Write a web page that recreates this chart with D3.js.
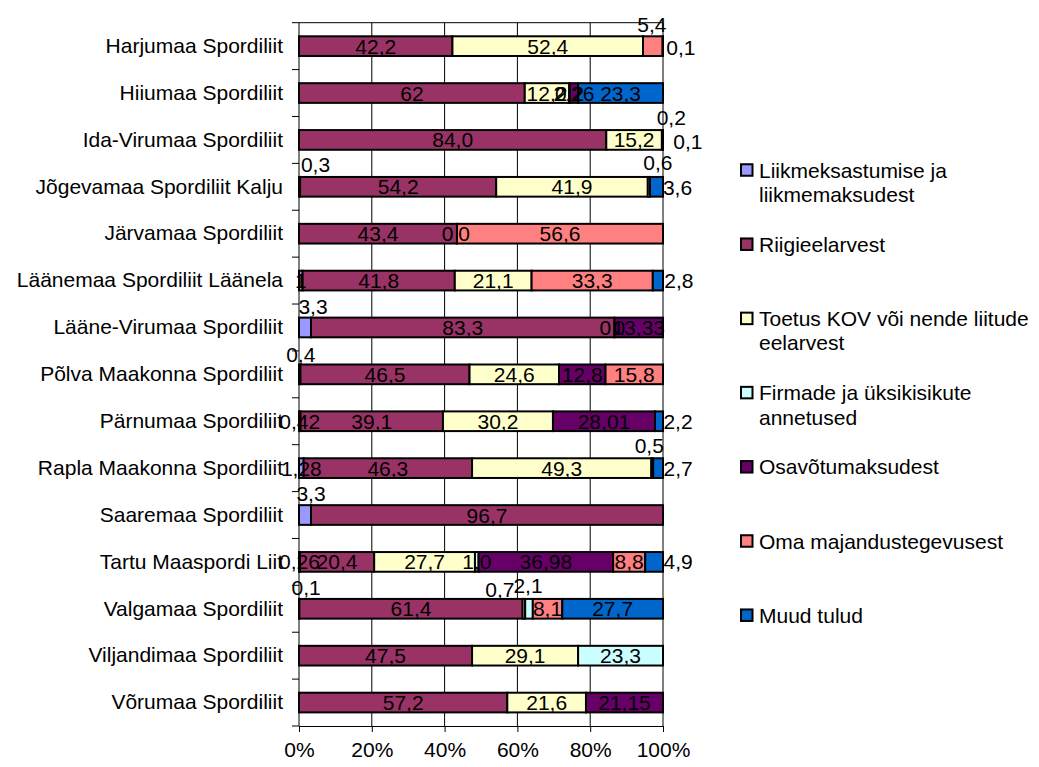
<!DOCTYPE html>
<html>
<head>
<meta charset="utf-8">
<script src="https://cdn.jsdelivr.net/npm/d3@7"></script>
<style>
  body { margin: 0; background: #fff; }
  svg text { font-family: "Liberation Sans", Arial, sans-serif; }
</style>
</head>
<body>
<svg id="chart" width="1039" height="767"></svg>
<script>
// andmed (loetud pildilt, eesti komaga nagu sildil)
const categories = [
  "Harjumaa Spordiliit", "Hiiumaa Spordiliit", "Ida-Virumaa Spordiliit",
  "Jõgevamaa Spordiliit Kalju", "Järvamaa Spordiliit", "Läänemaa Spordiliit Läänela",
  "Lääne-Virumaa Spordiliit", "Põlva Maakonna Spordiliit", "Pärnumaa Spordiliit",
  "Rapla Maakonna Spordiliit", "Saaremaa Spordiliit", "Tartu Maaspordi Liit",
  "Valgamaa Spordiliit", "Viljandimaa Spordiliit", "Võrumaa Spordiliit"
];
const seriesNames = [
  "Liikmeksastumise ja\nliikmemaksudest",
  "Riigieelarvest",
  "Toetus KOV või nende liitude\neelarvest",
  "Firmade ja üksikisikute\nannetused",
  "Osavõtumaksudest",
  "Oma majandustegevusest",
  "Muud tulud"
];
const liikmeks = [null, null, null, "0,3", null, "1", "3,3", "0,4", "0,42", "1,28", "3,3", "0,26", "0,1", null, null];
const riigi    = ["42,2", "62", "84,0", "54,2", "43,4", "41,8", "83,3", "46,5", "39,1", "46,3", "96,7", "20,4", "61,4", "47,5", "57,2"];
const toetus   = ["52,4", "12,2", "15,2", "41,9", "0", "21,1", "0", "24,6", "30,2", "49,3", null, "27,7", "0,7", "29,1", "21,6"];
const firmade  = [null, "0,2", null, null, "0", null, "0", null, null, null, null, "1,0", "2,1", "23,3", null];
const osavotu  = [null, "2,26", "0,2", null, null, null, "13,33", "12,8", "28,01", "0,5", null, "36,98", null, null, "21,15"];
const oma      = ["5,4", null, null, "0,6", "56,6", "33,3", null, "15,8", null, null, null, "8,8", "8,1", null, null];
const muud     = ["0,1", "23,3", "0,1", "3,6", null, "2,8", null, null, "2,2", "2,7", null, "4,9", "27,7", null, null];
const xTicks = [0, 0.2, 0.4, 0.6, 0.8, 1];

const seriesValues = [liikmeks, riigi, toetus, firmade, osavotu, oma, muud];
const colors = ["#9999FF", "#993366", "#FFFFCC", "#CCFFFF", "#660066", "#FF8080", "#0066CC"];

// käsitsi nihutatud sildid: "rida-seeria" -> [dx, dy]
const labelShift = {
  "0-5": [-1, -22], "0-6": [18, 1],
  "2-4": [9, -22], "2-6": [25, 2],
  "3-0": [16, -22], "3-5": [9, -24], "3-6": [21, 1],
  "4-2": [-9.5, 0], "4-3": [7, 0],
  "5-6": [21, 0],
  "6-0": [8, -21], "6-2": [-9, 0], "6-3": [5, 0],
  "7-0": [1, -20],
  "8-6": [19, 0],
  "9-4": [-3, -23], "9-6": [20, 0],
  "10-0": [6, -22],
  "11-6": [24, 0],
  "12-0": [7, -21], "12-2": [-24, -19], "12-3": [-1, -23]
};

const num = s => s == null ? 0 : +s.replace(",", ".");

const table = categories.map((c, i) => {
  const row = { cat: c, idx: i };
  seriesValues.forEach((s, k) => row[k] = num(s[i]));
  return row;
});
const keys = d3.range(seriesNames.length);
const stacked = d3.stack().keys(keys).offset(d3.stackOffsetExpand)(table);

const plotLeft = 299, plotRight = 663, plotTop = 22.7, plotBottom = 726;
const x = d3.scaleLinear().domain([0, 1]).range([plotLeft, plotRight]);
const y = d3.scaleBand().domain(categories).range([plotTop, plotBottom]);
const barH = y.bandwidth() * 0.42;

const svg = d3.select("#chart");

// ruudustik
svg.append("g")
  .selectAll("line")
  .data(xTicks.slice(1))
  .join("line")
  .attr("x1", d => x(d)).attr("x2", d => x(d))
  .attr("y1", plotTop).attr("y2", plotBottom)
  .attr("stroke", "#000").attr("stroke-width", 1);

svg.append("line")
  .attr("x1", plotLeft).attr("x2", plotRight)
  .attr("y1", plotTop).attr("y2", plotTop)
  .attr("stroke", "#000");

// tulbad
const layers = svg.append("g")
  .selectAll("g")
  .data(stacked)
  .join("g")
  .attr("fill", d => colors[d.key]);

layers.selectAll("rect")
  .data(d => d.filter(p => seriesValues[d.key][p.data.idx] != null))
  .join("rect")
  .attr("x", d => x(d[0]))
  .attr("width", d => Math.max(0, x(d[1]) - x(d[0])))
  .attr("y", d => y(d.data.cat) + y.bandwidth() / 2 - barH / 2)
  .attr("height", barH)
  .attr("stroke", "#000")
  .attr("stroke-width", 2);

// andmesildid
const labels = [];
stacked.forEach(layer => {
  layer.forEach(p => {
    const txt = seriesValues[layer.key][p.data.idx];
    if (txt == null) return;
    const sh = labelShift[p.data.idx + "-" + layer.key] || [0, 0];
    labels.push({
      txt,
      x: x((p[0] + p[1]) / 2) + sh[0],
      y: y(p.data.cat) + y.bandwidth() / 2 + sh[1]
    });
  });
});
svg.append("g")
  .selectAll("text")
  .data(labels)
  .join("text")
  .attr("x", d => d.x)
  .attr("y", d => d.y)
  .attr("dy", "0.36em")
  .attr("text-anchor", "middle")
  .attr("font-size", 21)
  .attr("fill", "#000")
  .text(d => d.txt);

// x telg
const xAxis = svg.append("g")
  .attr("transform", `translate(0,${plotBottom})`)
  .call(d3.axisBottom(x).tickValues(xTicks).tickFormat(d3.format(".0%")).tickSize(6).tickPadding(10));
xAxis.selectAll("text").attr("font-size", 21).attr("font-family", null).attr("fill", "#000");
xAxis.selectAll("line, path").attr("stroke", "#000");

// y telg
const yAxis = svg.append("g")
  .attr("transform", `translate(${plotLeft},0)`)
  .call(d3.axisLeft(y).tickSize(0).tickPadding(16));
yAxis.select(".domain").remove();
yAxis.selectAll("text").attr("font-size", 21).attr("font-family", null).attr("fill", "#000");

svg.append("line")
  .attr("x1", plotLeft).attr("x2", plotLeft)
  .attr("y1", plotTop).attr("y2", plotBottom)
  .attr("stroke", "#000");

svg.append("g")
  .selectAll("line")
  .data(d3.range(categories.length + 1))
  .join("line")
  .attr("x1", plotLeft - 7).attr("x2", plotLeft)
  .attr("y1", i => plotTop + i * y.step())
  .attr("y2", i => plotTop + i * y.step())
  .attr("stroke", "#000");

// legend
const legend = svg.append("g")
  .selectAll("g")
  .data(seriesNames)
  .join("g")
  .attr("transform", (d, i) => `translate(741,${170 + i * 74.2})`);

legend.append("rect")
  .attr("x", 0).attr("y", -5.75)
  .attr("width", 11.5).attr("height", 11.5)
  .attr("fill", (d, i) => colors[i])
  .attr("stroke", "#000").attr("stroke-width", 2);

legend.append("text")
  .attr("x", 18)
  .attr("font-size", 21)
  .attr("fill", "#000")
  .selectAll("tspan")
  .data(d => d.split("\n"))
  .join("tspan")
  .attr("x", 18)
  .attr("y", (d, i) => i * 24.5)
  .attr("dy", "0.36em")
  .text(d => d);
</script>
</body>
</html>
